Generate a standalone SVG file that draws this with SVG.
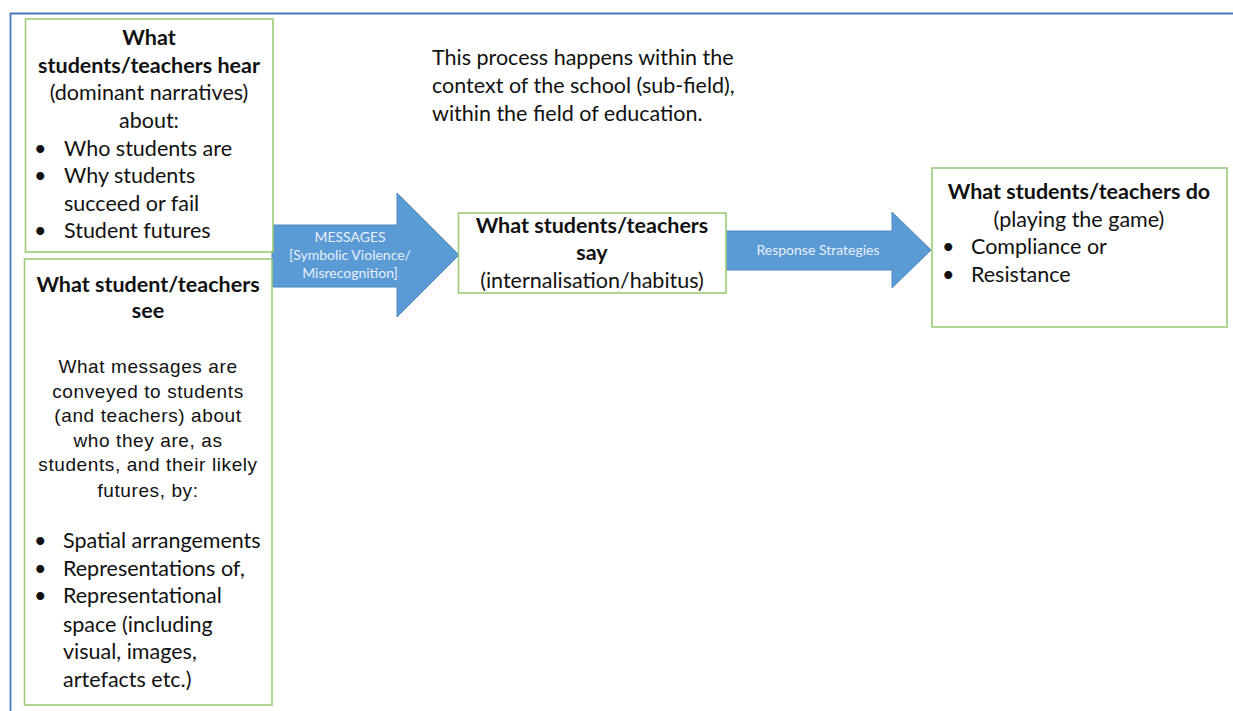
<svg xmlns="http://www.w3.org/2000/svg" width="1233" height="711" viewBox="0 0 1233 711">
<style>
.box{fill:#fff;stroke:#9BCB7A;stroke-width:1.6}
.t{font-family:Lato,"Liberation Sans",sans-serif;font-size:21.5px;fill:#111}
.b{font-weight:bold}
.c{text-anchor:middle}
.a{font-family:"Liberation Sans",Arial,sans-serif;font-size:19px;letter-spacing:0.6px;fill:#111;text-anchor:middle}
.w{font-family:Lato,"Liberation Sans",sans-serif;font-size:14px;fill:#e6eef9;text-anchor:middle}
.arrow{fill:#5B9BD5;stroke:#5089c0;stroke-width:1}
</style>
<rect width="1233" height="711" fill="#fff"/>
<g id="frame"><path d="M10.5 711 V13.5 H1233" fill="none" stroke="#4a78c0" stroke-width="1.8"/></g>
<g id="connectors">
<polygon class="arrow" points="272,225 397,225 397,193 459,255 397,317 397,287 272,287"/>
<text class="w" x="350" y="242">MESSAGES</text>
<text class="w" x="350" y="260">[Symbolic Violence/</text>
<text class="w" x="350" y="278">Misrecognition]</text>
<polygon class="arrow" points="726,231 892,231 892,212 931,250 892,288 892,270 726,270"/>
<text class="w" x="818" y="255">Response Strategies</text>
</g>
<g id="context"><text class="t" x="432" y="65">This process happens within the</text>
<text class="t" x="432" y="93">context of the school (sub-field),</text>
<text class="t" x="432" y="121">within the field of education.</text></g>
<g id="hear">
<rect class="box" x="25.5" y="19" width="247.5" height="233"/>
<text class="t b c" x="149" y="45">What</text>
<text class="t b c" x="149" y="73">students/teachers hear</text>
<text class="t c" x="149" y="100">(dominant narratives)</text>
<text class="t c" x="149" y="128">about:</text>
<text class="t" x="34" y="156">•</text><text class="t" x="64" y="156">Who students are</text>
<text class="t" x="34" y="183">•</text><text class="t" x="64" y="183">Why students</text>
<text class="t" x="64" y="211">succeed or fail</text>
<text class="t" x="34" y="238">•</text><text class="t" x="64" y="238">Student futures</text>
</g>
<g id="see">
<rect class="box" x="24.5" y="259" width="247.5" height="446"/>
<text class="t b c" x="148" y="292">What student/teachers</text>
<text class="t b c" x="148" y="318">see</text>
<text class="a" x="148" y="373">What messages are</text>
<text class="a" x="148" y="398">conveyed to students</text>
<text class="a" x="148" y="422">(and teachers) about</text>
<text class="a" x="148" y="447">who they are, as</text>
<text class="a" x="148" y="471">students, and their likely</text>
<text class="a" x="148" y="497">futures, by:</text>
<text class="t" x="34" y="548">•</text><text class="t" x="63" y="548">Spatial arrangements</text>
<text class="t" x="34" y="576">•</text><text class="t" x="63" y="576">Representations of,</text>
<text class="t" x="34" y="603">•</text><text class="t" x="63" y="603">Representational</text>
<text class="t" x="63" y="632">space (including</text>
<text class="t" x="63" y="659">visual, images,</text>
<text class="t" x="63" y="687">artefacts etc.)</text>
</g>
<g id="say">
<rect class="box" x="458.5" y="213" width="267.5" height="80"/>
<text class="t b c" x="592" y="233">What students/teachers</text>
<text class="t b c" x="592" y="260">say</text>
<text class="t c" x="592" y="288">(internalisation/habitus)</text>
</g>
<g id="do">
<rect class="box" x="932" y="168" width="295" height="159"/>
<text class="t b c" x="1079" y="199">What students/teachers do</text>
<text class="t c" x="1079" y="227">(playing the game)</text>
<text class="t" x="942" y="254">•</text><text class="t" x="971" y="254">Compliance or</text>
<text class="t" x="942" y="282">•</text><text class="t" x="971" y="282">Resistance</text>
</g>
</svg>
